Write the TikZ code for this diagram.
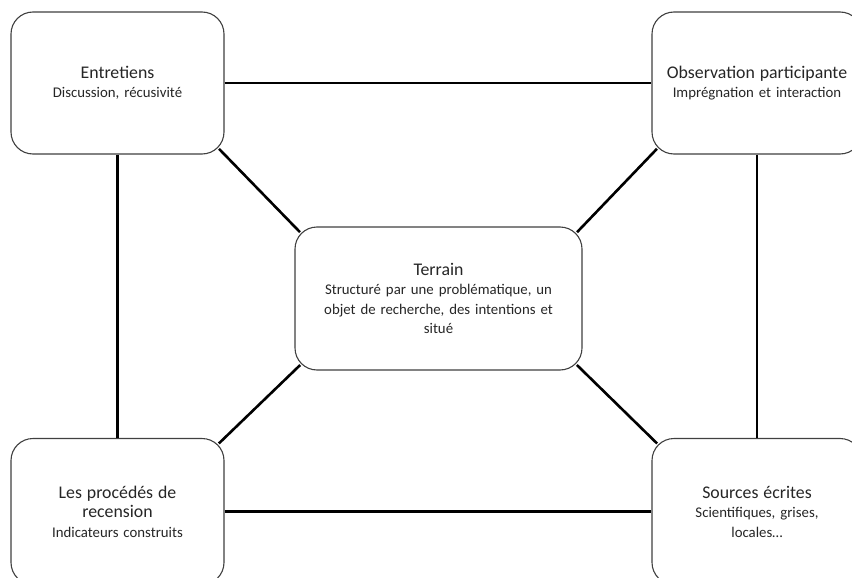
\documentclass[tikz,border=0pt]{standalone}
\usepackage{fontspec}
\setmainfont{Carlito}
\newcommand{\tfont}{\fontsize{17.8}{19.5}\selectfont}
\newcommand{\sfont}{\fontsize{14.8}{19.5}\selectfont}
\begin{document}
\begin{tikzpicture}[x=1pt,y=-1pt,
  box/.style={draw=black!75, line width=1.1pt, fill=white, rounded corners=22pt, align=center, text=black!85, inner sep=2pt, font=\sfont},
  link/.style={line width=2.6pt, black},
  diag/.style={link, shorten <=-8pt, shorten >=-8pt}]
\useasboundingbox (0,0) rectangle (852,578);
\clip (0,0) rectangle (852,578);
\node[box, minimum width=213pt, minimum height=142pt, text width=205pt] (tl) at (117.5,83)
  {{\tfont Entretiens}\\ Discussion, récusivité};
\node[box, minimum width=210pt, minimum height=142pt, text width=205pt] (tr) at (757,83)
  {{\tfont Observation participante}\\ Imprégnation et interaction};
\node[box, minimum width=287pt, minimum height=143pt, text width=270pt] (c) at (438.5,298.5)
  {{\tfont Terrain}\\ Structuré par une problématique, un\\ objet de recherche, des intentions et\\ situé};
\node[box, minimum width=213pt, minimum height=146pt, text width=205pt] (bl) at (117.5,511.5)
  {{\tfont Les procédés de}\\ {\tfont recension}\\ Indicateurs construits};
\node[box, minimum width=210pt, minimum height=146pt, text width=205pt] (br) at (757,511.5)
  {{\tfont Sources écrites}\\ Scientifiques, grises,\\ locales\dots};
\draw[link] (tl.east) -- (tr.west);
\draw[link] (bl.east) -- (br.west);
\draw[link] (tl.south) -- (bl.north);
\draw[link] (tr.south) -- (br.north);
\draw[diag] (tl.south east) -- (c.north west);
\draw[diag] (tr.south west) -- (c.north east);
\draw[diag] (bl.north east) -- (c.south west);
\draw[diag] (br.north west) -- (c.south east);
\end{tikzpicture}
\end{document}
